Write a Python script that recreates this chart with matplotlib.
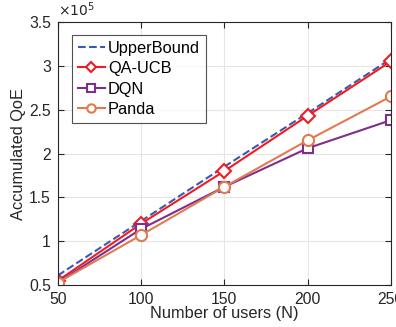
import matplotlib
matplotlib.use("Agg")
import matplotlib.pyplot as plt

users = [50, 100, 150, 200, 250]
upper = [0.61, 1.23, 1.85, 2.46, 3.08]
qaucb = [0.55, 1.20, 1.80, 2.43, 3.05]
dqn = [0.53, 1.14, 1.62, 2.06, 2.38]
panda = [0.53, 1.07, 1.62, 2.15, 2.65]
yticks = [0.5, 1, 1.5, 2, 2.5, 3, 3.5]
ytick_labels = ["0.5", "1", "1.5", "2", "2.5", "3", "3.5"]

plt.rcParams['font.family'] = ['Liberation Sans', 'DejaVu Sans']
fig = plt.figure(figsize=(3.96, 3.27), dpi=100)
ax = fig.add_axes([0.146, 0.128, 0.841, 0.805])

ax.plot(users, upper, '--', color='#3a5ab0', lw=1.5, label='UpperBound')
ax.plot(users, qaucb, '-', color='#f01c24', lw=1.5, marker='D', ms=7,
        mfc='white', mec='#f01c24', mew=1.5, label='QA-UCB')
ax.plot(users, dqn, '-', color='#7e2f8e', lw=1.5, marker='s', ms=7,
        mfc='white', mec='#7e2f8e', mew=1.5, label='DQN')
ax.plot(users, panda, '-', color='#e07b50', lw=1.5, marker='o', ms=8,
        mfc='white', mec='#e07b50', mew=1.5, label='Panda')

ax.set_xlim(50, 250)
ax.set_ylim(0.5, 3.5)
ax.set_xticks(users)
ax.set_yticks(yticks)
ax.set_yticklabels(ytick_labels)
ax.grid(True, color='#e6e6e6', lw=0.8)
ax.set_axisbelow(True)
for s in ax.spines.values():
    s.set_color('#262626')
    s.set_linewidth(0.8)
ax.tick_params(direction='in', length=4, width=0.8, colors='#262626',
               labelsize=11.3, top=True, right=True, pad=5)
ax.set_xlabel('Number of users (N)', fontsize=11.8, color='#262626', labelpad=-1)
ax.set_ylabel('Accumulated QoE', fontsize=11.8, color='#262626', labelpad=2)
ax.text(0.0, 1.01, r'$\times10^5$', transform=ax.transAxes, fontsize=10,
        color='#262626', ha='left', va='bottom')

leg = ax.legend(loc='upper left', bbox_to_anchor=(0.042, 0.95), fontsize=11.8,
                frameon=True, fancybox=False, edgecolor='#262626',
                handlelength=1.7, handletextpad=0.15, borderpad=0.35,
                labelspacing=0.33, borderaxespad=0, markerscale=0.75)
leg.get_frame().set_linewidth(0.8)

fig.savefig('out.png', dpi=100)
